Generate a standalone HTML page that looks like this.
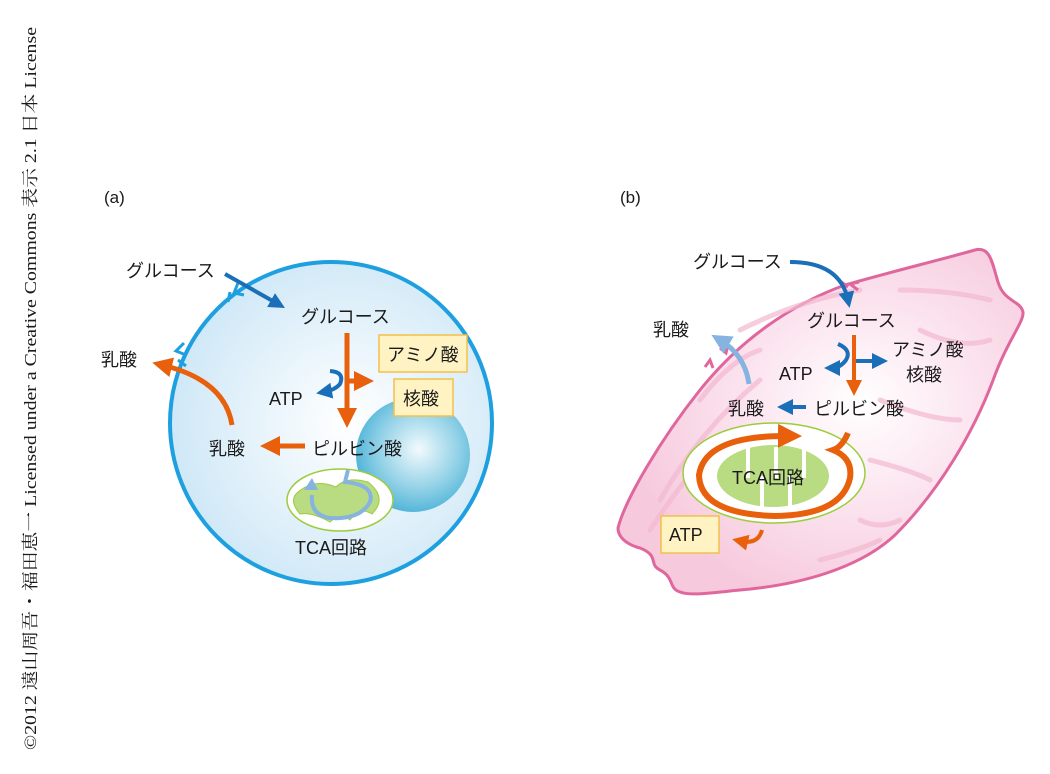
<!DOCTYPE html>
<html><head><meta charset="utf-8"><style>
html,body{margin:0;padding:0;background:#fff;}
svg{display:block;}
text{font-family:"Liberation Sans","Noto Sans CJK JP",sans-serif;fill:#1a1a1a;}
</style></head><body>
<svg width="1050" height="774" viewBox="0 0 1050 774" xmlns="http://www.w3.org/2000/svg">
<defs>
<radialGradient id="cellA" cx="0.55" cy="0.5" r="0.55">
<stop offset="0" stop-color="#ffffff"/><stop offset="1" stop-color="#cfe8f7"/></radialGradient>
<radialGradient id="nuc" cx="0.55" cy="0.45" r="0.6">
<stop offset="0" stop-color="#f2fafd"/><stop offset="0.6" stop-color="#8fd0e6"/><stop offset="1" stop-color="#45b0d6"/></radialGradient>
<radialGradient id="cellB" cx="0.6" cy="0.45" r="0.6">
<stop offset="0" stop-color="#ffffff"/><stop offset="0.5" stop-color="#fbe3ee"/><stop offset="1" stop-color="#f6c9dc"/></radialGradient>
<marker id="ao" markerWidth="4" markerHeight="4" refX="2" refY="2" orient="auto" markerUnits="strokeWidth"><path d="M0,0 L4,2 L0,4 z" fill="#e8600c"/></marker>
<marker id="ab" markerWidth="4" markerHeight="4" refX="2" refY="2" orient="auto" markerUnits="strokeWidth"><path d="M0,0 L4,2 L0,4 z" fill="#1a6fb8"/></marker>
<marker id="al" markerWidth="4" markerHeight="4" refX="2" refY="2" orient="auto" markerUnits="strokeWidth"><path d="M0,0 L4,2 L0,4 z" fill="#86b3e0"/></marker>
</defs>

<text transform="translate(36,750) rotate(-90)" font-size="17" textLength="723" lengthAdjust="spacingAndGlyphs" style="font-family:'Liberation Serif','Noto Serif CJK SC',serif">©2012 遠山周吾・福田恵一 Licensed under a Creative Commons 表示 2.1 日本 License</text>

<text x="104" y="203" font-size="17">(a)</text>
<text x="620" y="203" font-size="17">(b)</text>

<!-- Cell A -->
<circle cx="331" cy="423" r="161" fill="url(#cellA)" stroke="#1ea0e0" stroke-width="4"/>
<path d="M238,283 l-4,10 l10,2 M228,302 l2,-10" stroke="#1ea0e0" stroke-width="3" fill="none"/>
<path d="M184,343 l-8,8 l10,4 M178,360 l8,6" stroke="#1ea0e0" stroke-width="3" fill="none"/>
<circle cx="413" cy="455" r="57" fill="url(#nuc)"/>
<ellipse cx="340" cy="500" rx="53" ry="31" fill="#fff" stroke="#9ccc3c" stroke-width="1.5"/>
<path d="M298,492 Q315,478 336,487 Q346,476 368,482 Q388,498 372,514 Q360,506 350,520 Q340,512 330,522 Q312,512 300,514 Q288,500 298,492z" fill="#b9db82" stroke="#9ccc3c"/>
<path d="M348,470 L345,482 Q375,485 370,502 Q360,520 330,518 Q310,515 312,495" fill="none" stroke="#86b3e0" stroke-width="4"/>
<path d="M304,490 l8,-12 l6,12z" fill="#86b3e0"/>

<path d="M225,274 L278,304" stroke="#1a6fb8" stroke-width="4" marker-end="url(#ab)"/>
<text x="126" y="277" font-size="18">グルコース</text>
<text x="301" y="323" font-size="18">グルコース</text>
<line x1="347" y1="333" x2="347" y2="418" stroke="#e8600c" stroke-width="5" marker-end="url(#ao)"/>
<line x1="347" y1="381" x2="364" y2="381" stroke="#e8600c" stroke-width="5" marker-end="url(#ao)"/>
<path d="M330,371 Q345,372 340,384 Q335,390 324,392" stroke="#1a6fb8" stroke-width="4" fill="none" marker-end="url(#ab)"/>
<rect x="379" y="335" width="88" height="37" fill="#fff3c4" stroke="#f2c04a" stroke-width="1.5"/>
<text x="387" y="361" font-size="18">アミノ酸</text>
<rect x="394" y="379" width="59" height="37" fill="#fff3c4" stroke="#f2c04a" stroke-width="1.5"/>
<text x="403" y="405" font-size="18">核酸</text>
<text x="269" y="405" font-size="18">ATP</text>
<text x="312" y="455" font-size="18">ピルビン酸</text>
<line x1="305" y1="446" x2="270" y2="446" stroke="#e8600c" stroke-width="5" marker-end="url(#ao)"/>
<text x="209" y="455" font-size="18">乳酸</text>
<path d="M232,425 Q225,380 162,365" stroke="#e8600c" stroke-width="5" fill="none" marker-end="url(#ao)"/>
<text x="101" y="366" font-size="18">乳酸</text>
<text x="295" y="554" font-size="18">TCA回路</text>

<!-- Cell B -->
<path d="M845,285 C890,272 940,260 975,250 C990,246 992,262 998,282 C1004,302 1020,300 1023,312 C1024,322 1008,340 995,375 C975,430 940,490 895,535 C860,568 800,585 740,590 C710,593 690,596 680,592 C668,588 675,578 660,570 C648,564 660,556 640,548 C628,545 618,538 618,528 C625,500 660,440 700,390 C740,340 790,305 845,285z" fill="url(#cellB)" stroke="#e0679e" stroke-width="3"/>
<g stroke="#f3b9d0" stroke-width="5" fill="none" stroke-linecap="round" opacity="0.7">
<path d="M660,500 Q700,430 760,380"/><path d="M650,530 Q690,470 720,440"/>
<path d="M740,330 Q800,300 860,290"/><path d="M900,290 Q950,290 990,300"/><path d="M920,330 Q960,350 990,340"/>
<path d="M880,400 Q930,420 960,420"/><path d="M870,460 Q910,470 930,480"/><path d="M860,520 Q880,530 900,520"/>
<path d="M700,400 Q730,360 760,350"/><path d="M820,560 Q860,550 880,540"/>
</g>
<path d="M858,290 l-8,-6 l9,-2 M848,287 l-8,-6 M713,368 l-3,-8 l-5,7 M728,345 l-2,8 l-6,-5" stroke="#e0679e" stroke-width="3" fill="none"/>

<ellipse cx="774" cy="473" rx="91" ry="50" fill="#fff" stroke="#9ccc3c" stroke-width="1.5"/>
<ellipse cx="773" cy="476" rx="56" ry="31" fill="#b9db82"/>
<g stroke="#fff" stroke-width="4"><line x1="748" y1="447" x2="748" y2="478"/><line x1="762" y1="476" x2="762" y2="507"/><line x1="776" y1="447" x2="776" y2="478"/><line x1="790" y1="476" x2="790" y2="507"/><line x1="804" y1="447" x2="804" y2="478"/></g>
<path d="M848,433 Q842,447 833,450 Q853,458 850,478 Q842,515 775,516 Q700,514 699,475 Q705,435 790,436" fill="none" stroke="#e8600c" stroke-width="6" marker-end="url(#ao)"/>
<text x="732" y="484" font-size="18">TCA回路</text>

<path d="M790,262 Q840,262 848,300" stroke="#1a6fb8" stroke-width="4" fill="none" marker-end="url(#ab)"/>
<text x="693" y="268" font-size="18">グルコース</text>
<text x="807" y="327" font-size="18">グルコース</text>
<line x1="854" y1="335" x2="854" y2="388" stroke="#e8600c" stroke-width="4" marker-end="url(#ao)"/>
<line x1="856" y1="361" x2="880" y2="361" stroke="#1a6fb8" stroke-width="4" marker-end="url(#ab)"/>
<path d="M838,344 Q852,350 846,360 Q840,368 832,368" stroke="#1a6fb8" stroke-width="4" fill="none" marker-end="url(#ab)"/>
<text x="892" y="356" font-size="18">アミノ酸</text>
<text x="906" y="381" font-size="18">核酸</text>
<text x="779" y="380" font-size="18">ATP</text>
<text x="814" y="415" font-size="18">ピルビン酸</text>
<line x1="806" y1="407" x2="785" y2="407" stroke="#1a6fb8" stroke-width="4" marker-end="url(#ab)"/>
<text x="728" y="415" font-size="18">乳酸</text>
<path d="M749,384 Q745,355 720,340" stroke="#86b3e0" stroke-width="5" fill="none" marker-end="url(#al)"/>
<text x="653" y="336" font-size="18">乳酸</text>
<rect x="661" y="516" width="58" height="37" fill="#fff3c4" stroke="#f2c04a" stroke-width="1.5"/>
<text x="669" y="541" font-size="18">ATP</text>
<path d="M762,530 Q758,545 740,541" stroke="#e8600c" stroke-width="4" fill="none" marker-end="url(#ao)"/>
</svg>
</body></html>
